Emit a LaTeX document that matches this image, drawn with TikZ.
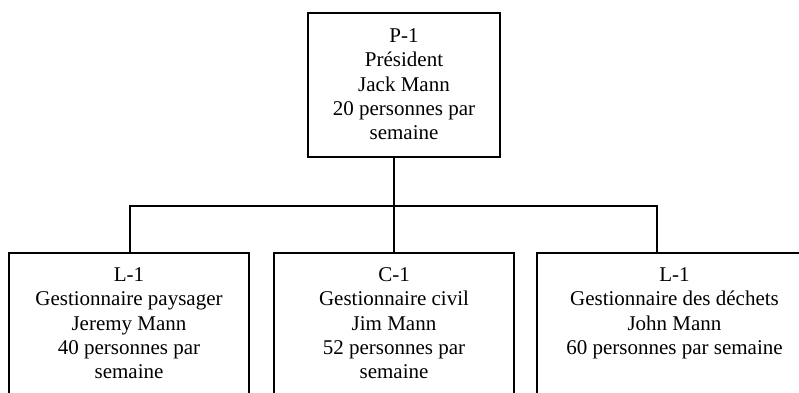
\documentclass[tikz,border=0pt]{standalone}
\usepackage{fontspec}
\setmainfont{Liberation Serif}
\tikzset{
  box/.style={draw=black, line width=1.6pt, rectangle, inner sep=0pt},
  txt/.style={align=center, inner sep=0pt, anchor=north, font=\fontsize{21}{24.4}\selectfont},
  link/.style={draw=black, line width=1.6pt},
}
\begin{document}
\begin{tikzpicture}[x=1pt,y=1pt]
\useasboundingbox (0,0) rectangle (799,392);
\clip (0,0) rectangle (799,392);
% top box
\node[box, minimum width=192pt, minimum height=144pt] (p1) at (404,307) {};
\node[txt] (p1t) at ([yshift=-12.9pt]p1.north) {\strut P-1\\Président\\Jack Mann\\20 personnes par\\semaine};
% bottom boxes (extend past the bottom/right edge)
\node[box, minimum width=240pt, minimum height=180pt] (b1) at (129,49) {};
\node[box, minimum width=240pt, minimum height=180pt] (b2) at (394,49) {};
\node[box, minimum width=275pt, minimum height=180pt] (b3) at (674.5,49) {};
\node[txt] (b1t) at ([yshift=-11.9pt]b1.north) {\strut L-1\\Gestionnaire paysager\\Jeremy Mann\\40 personnes par\\semaine};
\node[txt] (b2t) at ([yshift=-11.9pt]b2.north) {\strut C-1\\Gestionnaire civil\\Jim Mann\\52 personnes par\\semaine};
\node[txt] (b3t) at ([yshift=-11.9pt]b3.north) {\strut L-1\\Gestionnaire des déchets\\John Mann\\60 personnes par semaine};
% connectors
\coordinate (j) at (394,186);
\coordinate (d1) at ([xshift=1pt]b1.north);
\coordinate (d3) at ([xshift=121pt]b3.north west);
\draw[link] (p1.south -| j) -- (j);
\draw[link] (d1) |- (j) -| (d3);
\draw[link] (j) -- (b2.north);
\end{tikzpicture}
\end{document}
